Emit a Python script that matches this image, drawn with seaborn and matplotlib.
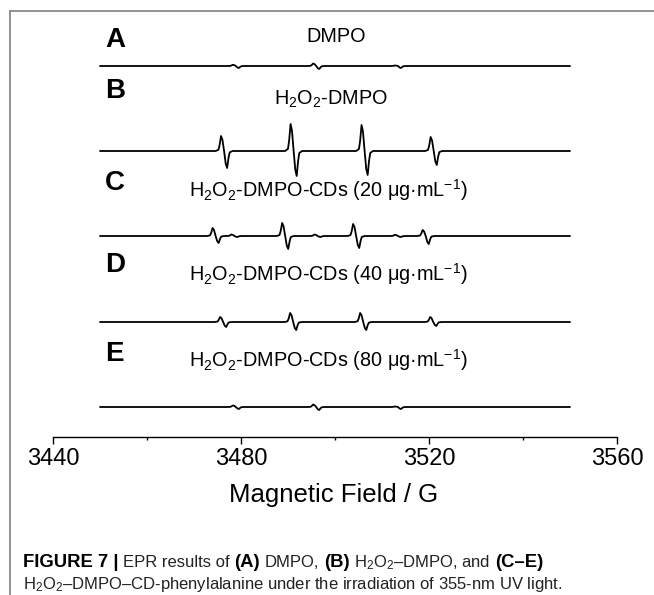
import numpy as np
import pandas as pd
import matplotlib
matplotlib.use("Agg")
import matplotlib.pyplot as plt
import seaborn as sns
from matplotlib.lines import Line2D

# ---------------- data ----------------
field_range = [3450.0, 3550.0]          # G, extent of every recorded spectrum
panel_letters = ["A", "B", "C", "D", "E"]
sample_labels = [
    "DMPO",
    r"H$_2$O$_2$-DMPO",
    r"H$_2$O$_2$-DMPO-CDs (20 μg·mL$^{-1}$)",
    r"H$_2$O$_2$-DMPO-CDs (40 μg·mL$^{-1}$)",
    r"H$_2$O$_2$-DMPO-CDs (80 μg·mL$^{-1}$)",
]
# each line: (centre field / G, positive lobe height, negative lobe depth)  [a.u.]
lines_A = [(3478.9, 1.2, 2.0), (3496.0, 2.5, 3.0), (3513.4, 0.5, 2.0)]
lines_B = [(3476.4, 15, 17), (3491.2, 27, 25), (3506.3, 26, 24), (3521.0, 14, 14)]
lines_C = [(3474.6, 8, 7), (3478.6, 1.5, 1.0), (3489.4, 13, 13), (3496.3, 1.5, 1.0),
           (3504.5, 12, 12), (3513.4, 1.2, 1.0), (3519.3, 6, 8)]
lines_D = [(3476.2, 5, 5), (3491.1, 9, 8), (3506.0, 9, 8), (3520.9, 5, 4)]
lines_E = [(3478.9, 1.5, 2.0), (3496.0, 2.5, 3.0), (3513.4, 0.5, 2.0)]
# first-derivative line shape (offset / G, relative height)
shape_offsets = [-1.8, -1.2, -0.95, -0.65, -0.35, 0.0, 0.35, 0.65, 0.95, 1.2, 1.8]
shape_values = [0.0, 0.08, 0.4, 1.0, 0.75, 0.0, -0.75, -1.0, -0.4, -0.08, 0.0]
x_ticks = [3440, 3480, 3520, 3560]
x_minor = [3460, 3500, 3540]
x_label = "Magnetic Field / G"

# ---------------- layout (pixels of the 654x595 picture) ----------------
W, H = 654, 595
AX_L, AX_R, AX_B, AX_T = 53, 617, 437, 10
baseline_px = [66, 151, 236, 322, 407]
letter_base_px = [47, 98, 190, 272, 361]
label_base_px = [41.5, 104.5, 197, 281, 367]
label_cx = [336, 331, 328, 328, 328]

sns.set_style("ticks")
plt.rcParams["font.family"] = ["Liberation Sans", "DejaVu Sans"]
plt.rcParams["mathtext.fontset"] = "custom"
plt.rcParams["mathtext.rm"] = "Liberation Sans"
plt.rcParams["mathtext.it"] = "Liberation Sans:italic"
plt.rcParams["mathtext.bf"] = "Liberation Sans:bold"
plt.rcParams["axes.unicode_minus"] = True
plt.rcParams["text.color"] = "black"
plt.rcParams["axes.labelcolor"] = "black"
plt.rcParams["xtick.color"] = "black"


def fx(x):
    return x / W


def fy(y):
    return 1 - y / H


def build(lines):
    xs = [field_range[0]]
    ys = [0.0]
    for c, up, dn in lines:
        for o, v in zip(shape_offsets, shape_values):
            xs.append(c + o)
            ys.append(v * (up if v > 0 else dn))
    xs.append(field_range[1])
    ys.append(0.0)
    return xs, ys


fig = plt.figure(figsize=(W / 100, H / 100), dpi=100)
ax = fig.add_axes([fx(AX_L), fy(AX_B), (AX_R - AX_L) / W, (AX_B - AX_T) / H])

frames = []
for name, lines, bpx in zip(panel_letters, [lines_A, lines_B, lines_C, lines_D, lines_E], baseline_px):
    xs, ys = build(lines)
    off = AX_B - bpx
    frames.append(pd.DataFrame({"field": xs, "signal": np.array(ys) + off, "panel": name}))
df = pd.concat(frames, ignore_index=True)

for name in panel_letters:
    sns.lineplot(data=df[df.panel == name], x="field", y="signal", sort=False,
                 estimator=None, color="black", lw=1.3, ax=ax, legend=False)

ax.set_xlim(3440, 3560)
ax.set_ylim(0, AX_B - AX_T)
for s in ["left", "right", "top"]:
    ax.spines[s].set_visible(False)
ax.spines["bottom"].set_linewidth(1.0)
ax.spines["bottom"].set_color("black")
ax.set_yticks([])
ax.set_ylabel("")
ax.set_xticks(x_ticks)
ax.set_xticks(x_minor, minor=True)
ax.set_xticklabels([str(t) for t in x_ticks])
ax.tick_params(axis="x", which="major", length=4.8, width=1.0, pad=3.0,
               labelsize=17, color="black", labelcolor="black", direction="out")
ax.tick_params(axis="x", which="minor", length=2.3, width=1.0, color="black", direction="out")
ax.set_xlabel(x_label, fontsize=18.5, va="baseline", color="black")
ax.xaxis.set_label_coords((334 - AX_L) / (AX_R - AX_L), -(502 - AX_B) / (AX_B - AX_T))
ax.patch.set_alpha(0)

for L, lab, lb, sb, cx in zip(panel_letters, sample_labels, letter_base_px, label_base_px, label_cx):
    fig.text(fx(105), fy(lb), L, fontsize=20, fontweight="bold", ha="left", va="baseline",
             color="black")
    fig.text(fx(cx), fy(sb), lab, fontsize=14.3, ha="center", va="baseline", color="black")

# figure frame (grey) on top and left
fig.add_artist(Line2D([fx(9.5), 1.0], [fy(10.5), fy(10.5)], color="#808080", lw=1.2))
fig.add_artist(Line2D([fx(9.5), fx(9.5)], [fy(10.5), 0.0], color="#808080", lw=1.2))

# caption
renderer = fig.canvas.get_renderer()
cap_fs = 12
cap_bold_fs = 13.3
space_px = 0.278 * cap_fs * 100 / 72


def draw_line(pieces, x0, ybase):
    x = x0
    for txt, bold in pieces:
        t = fig.text(fx(x), fy(ybase), txt, fontsize=cap_bold_fs if bold else cap_fs,
                     fontweight="bold" if bold else "normal",
                     color="black" if bold else "#222222", ha="left", va="baseline")
        bb = t.get_window_extent(renderer=renderer)
        x += bb.width + space_px


cap_line1 = [("FIGURE 7 |", True), ("EPR results of", False), ("(A)", True), ("DMPO,", False),
             ("(B)", True), ("H$_2$O$_2$–DMPO, and", False), ("(C–E)", True)]
cap_line2 = [("H$_2$O$_2$–DMPO–CD-phenylalanine under the irradiation of 355-nm UV light.", False)]
draw_line(cap_line1, 23, 567)
draw_line(cap_line2, 23, 589)

fig.savefig("out.png", dpi=100)
